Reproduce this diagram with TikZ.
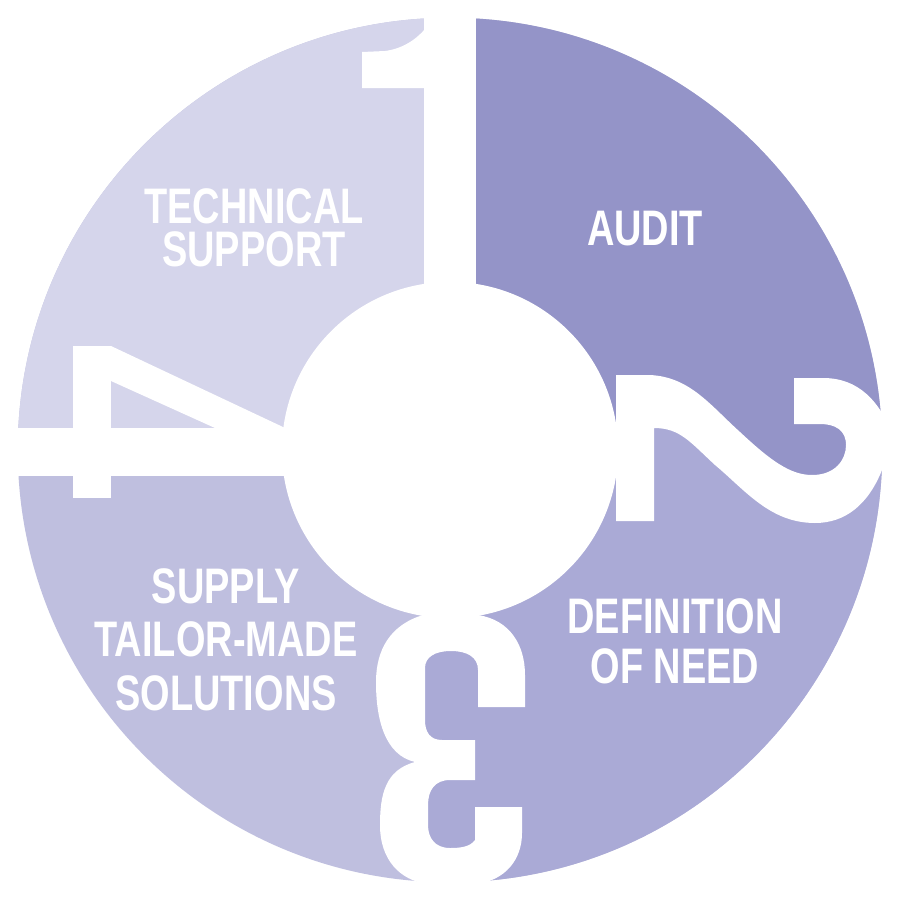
\documentclass[tikz,border=0pt]{standalone}
\usepackage{fontspec}
\setmainfont{Liberation Sans}[FakeStretch=0.76]
\definecolor{qtl}{RGB}{213,213,235}
\definecolor{qtr}{RGB}{148,148,200}
\definecolor{qbr}{RGB}{170,170,214}
\definecolor{qbl}{RGB}{191,191,223}
\begin{document}
\begin{tikzpicture}[x=0.01cm,y=-0.01cm,
  numeral/.style={fill=white},
  txt/.style={text=white, align=center, anchor=base, inner sep=0pt}]
\useasboundingbox (0,0) rectangle (900,900);
\fill[white] (0,0) rectangle (900,900);
\coordinate (c) at (450,450);
% quadrants
\begin{scope}
  \clip (c) circle[radius=4.32cm];
  \fill[qbl] (-10,-10) rectangle (910,910);
  \fill[qtl] (c) -- (450,-10) -- (-10,-10) -- (-10,450) -- cycle;
  \fill[qtr] (c) -- (450,-10) -- (910,-10) -- (910,450) -- (870,450) -- (830,500) -- (760,480) -- (700,420) -- (640,400) -- (640,450) -- cycle;
  \fill[qbr] (c) -- (640,450) -- (640,400) -- (700,420) -- (760,480) -- (830,500) -- (870,450) -- (910,450) -- (910,910) -- (452,910) -- (400,850) -- (405,785) -- (450,760) -- (400,735) -- (400,700) -- (410,640) -- (450,630) -- cycle;
\end{scope}
% inner white disc
\fill[white] (c) circle[radius=1.68cm];
% numeral 1
\fill[numeral] (424,-10) rectangle (476,300);
\fill[numeral] (424,88) -- (362,88) -- (362,52) -- (385,51) .. controls (408,48) and (426,33) .. (436,12) -- (440,-10) -- (450,-10) -- (450,88) -- cycle;
% numeral 4
\fill[numeral] (-10,428) rectangle (300,476);
\fill[numeral] (73,346) rectangle (111,498);
\fill[numeral] (111,346) -- (300,435) -- (300,450) -- (215,450) -- (215,428) -- (111,381) -- cycle;
% numeral 2
\fill[numeral] (616,375) -- (650,375) .. controls (690,377) and (710,405) .. (740,432) .. controls (770,460) and (790,475) .. (812,475) .. controls (835,475) and (846,460) .. (846,445) .. controls (846,430) and (835,424) .. (820,424) -- (794,424) -- (794,378) -- (823,378) .. controls (858,378) and (880,400) .. (895,440) -- (910,440) -- (910,470) -- (882,470) .. controls (868,505) and (845,523) .. (815,523) .. controls (770,523) and (745,490) .. (715,465) .. controls (690,442) and (680,428) .. (654,428) -- (654,521) -- (616,521) -- cycle;
% numeral 3
\fill[numeral] (423,605) -- (423,615) .. controls (390,625) and (376,650) .. (376,682) .. controls (376,720) and (385,755) .. (415,762) .. controls (385,770) and (380,795) .. (380,825) .. controls (380,860) and (400,880) .. (427,884) -- (427,910) -- (477,910) -- (477,884) .. controls (505,880) and (522,860) .. (522,833) -- (522,807) -- (475,807) -- (475,840) .. controls (470,847) and (460,848) .. (450,848) .. controls (435,848) and (428,838) .. (428,825) -- (428,805) .. controls (428,790) and (435,780) .. (450,780) -- (475,780) -- (475,740) -- (442,740) .. controls (430,740) and (425,732) .. (425,720) -- (425,668) .. controls (425,657) and (435,651) .. (451,651) .. controls (467,651) and (478,657) .. (478,670) -- (478,707) -- (525,707) -- (525,675) .. controls (525,645) and (510,620) .. (478,615) -- (478,605) -- cycle;
% labels (base anchor = baseline of the last line)
\node[txt, font=\bfseries\fontsize{14.2}{12.2}\selectfont] (tech) at (254,266) {TECHNICAL\\SUPPORT};
\node[txt, font=\bfseries\fontsize{14.2}{14.2}\selectfont] (audit) at (645,245) {AUDIT};
\node[txt, font=\bfseries\fontsize{14.2}{14.2}\selectfont] (def) at (675,683) {DEFINITION\\OF NEED};
\node[txt, font=\bfseries\fontsize{14.2}{15.1}\selectfont] (supply) at (226,710) {SUPPLY\\TAILOR-MADE\\SOLUTIONS};
\end{tikzpicture}
\end{document}
